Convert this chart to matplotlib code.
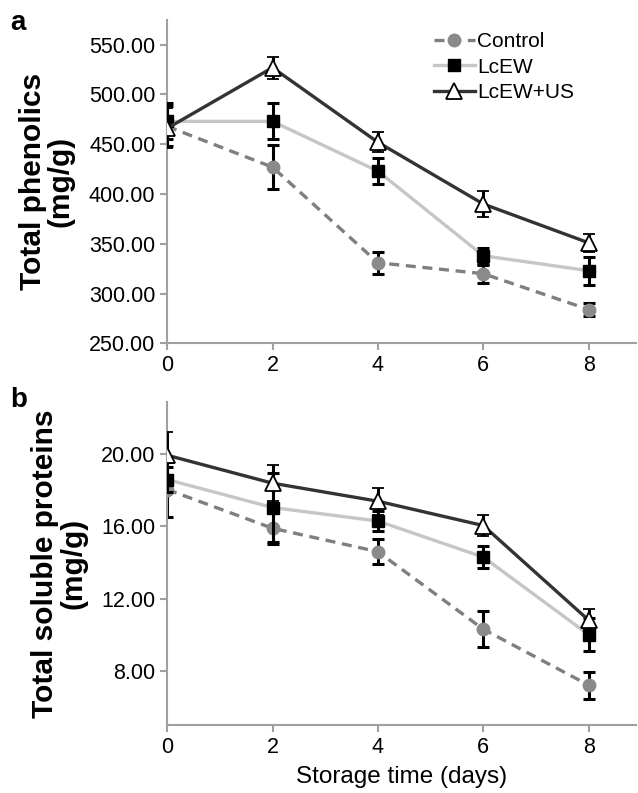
import matplotlib
matplotlib.use("Agg")
from matplotlib import pyplot as plt
from matplotlib.lines import Line2D
from matplotlib.ticker import FormatStrFormatter

plt.rcParams['font.family'] = ['Liberation Sans', 'DejaVu Sans']

days = [0, 2, 4, 6, 8]

# panel a - total phenolics (mg/g)
phen_ctrl = [468, 427, 331, 320, 284]
phen_ctrl_err = [20, 22, 11, 9, 7]
phen_lcew = [473, 473, 423, 338, 323]
phen_lcew_err = [18, 18, 13, 8, 14]
phen_us = [466, 527, 452, 390, 351]
phen_us_err = [20, 11, 10, 13, 9]

# panel b - total soluble proteins (mg/g)
prot_ctrl = [18.05, 15.9, 14.6, 10.3, 7.2]
prot_ctrl_err = [1.5, 0.9, 0.7, 1.0, 0.75]
prot_lcew = [18.6, 17.05, 16.3, 14.3, 10.0]
prot_lcew_err = [0.7, 1.9, 0.55, 0.6, 0.9]
prot_us = [19.95, 18.4, 17.4, 16.05, 10.8]
prot_us_err = [1.3, 1.0, 0.75, 0.6, 0.6]

names = ['Control', 'LcEW', 'LcEW+US']

ctrl_style = dict(color='#7f7f7f', ls='--', lw=2.4, marker='o', ms=9, mfc='#8a8a8a',
                  mec='#8a8a8a', dashes=(3, 2))
lcew_style = dict(color='#c6c6c6', ls='-', lw=2.4, marker='s', ms=9, mfc='black', mec='black')
us_style = dict(color='#333333', ls='-', lw=2.4, marker='^', ms=11, mfc='white', mec='black',
                mew=1.3)
eb = dict(ecolor='black', elinewidth=2.2, capsize=4, capthick=2.2)

fig = plt.figure(figsize=(6.38, 7.93), dpi=100)
axa = fig.add_axes([0.262, 0.567, 0.735, 0.408])
axb = fig.add_axes([0.262, 0.086, 0.735, 0.407])

def draw(ax, c, ce, l, le, u, ue):
    ax.errorbar(days, c, yerr=ce, zorder=2, **ctrl_style, **eb)
    ax.errorbar(days, l, yerr=le, zorder=3, **lcew_style, **eb)
    ax.errorbar(days, u, yerr=ue, zorder=4, **us_style, **eb)
    ax.set_xlim(0, 8.9)
    ax.set_xticks(days)
    for s in ['top', 'right']:
        ax.spines[s].set_visible(False)
    for s in ['left', 'bottom']:
        ax.spines[s].set_color('#a0a0a0')
        ax.spines[s].set_linewidth(1.5)
    ax.tick_params(colors='#a0a0a0', labelcolor='black', labelsize=15.5, width=1.5, length=5)
    ax.yaxis.set_major_formatter(FormatStrFormatter('%.2f'))

draw(axa, phen_ctrl, phen_ctrl_err, phen_lcew, phen_lcew_err, phen_us, phen_us_err)
axa.set_ylim(250, 575)
axa.set_yticks([250, 300, 350, 400, 450, 500, 550])
axa.set_ylabel('Total phenolics\n(mg/g)', fontsize=21.5, fontweight='bold', labelpad=10,
               linespacing=1.0)
handles = [Line2D([], [], **ctrl_style), Line2D([], [], **lcew_style), Line2D([], [], **us_style)]
axa.legend(handles, names, loc='upper right', bbox_to_anchor=(0.895, 1.0), frameon=False,
           fontsize=15, handlelength=2.0, handletextpad=0.1, labelspacing=0.3,
           borderaxespad=0.2)

draw(axb, prot_ctrl, prot_ctrl_err, prot_lcew, prot_lcew_err, prot_us, prot_us_err)
axb.set_ylim(5, 22.9)
axb.set_yticks([8, 12, 16, 20])
axb.set_ylabel('Total soluble proteins\n(mg/g)', fontsize=21.5, fontweight='bold', labelpad=10,
               linespacing=1.0)
axb.set_xlabel('Storage time (days)', fontsize=17.5, labelpad=6)

fig.text(0.016, 0.962, 'a', fontsize=20, fontweight='bold')
fig.text(0.016, 0.487, 'b', fontsize=20, fontweight='bold')

fig.savefig('out.png', dpi=100)
